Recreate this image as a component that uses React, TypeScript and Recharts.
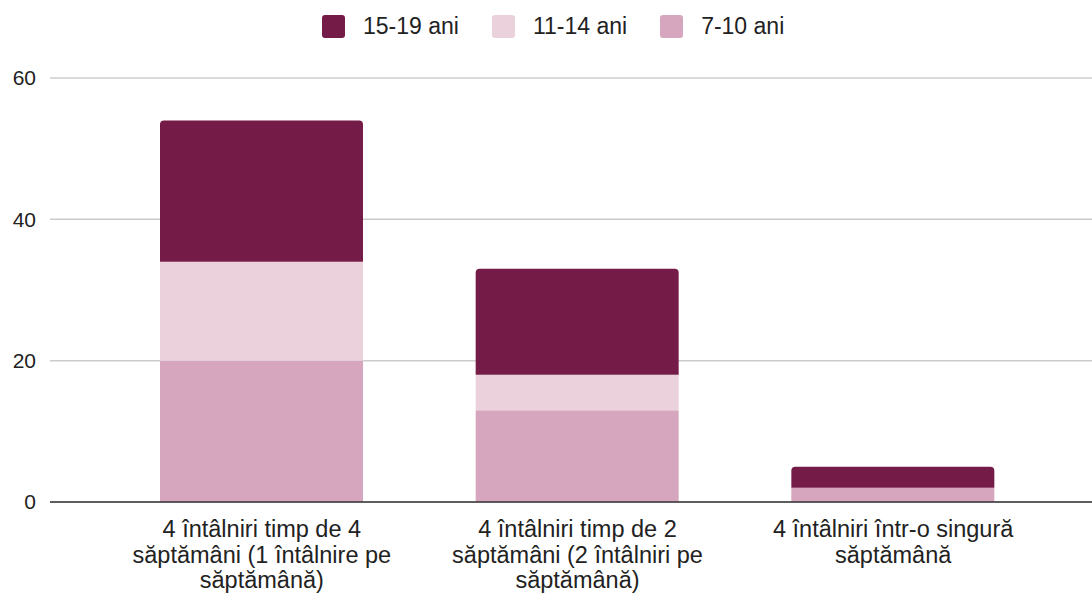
import React from "react";
import { BarChart, Bar, XAxis, YAxis, CartesianGrid, Legend } from "recharts";

const categories = [
  "4 întâlniri timp de 4 săptămâni (1 întâlnire pe săptămână)",
  "4 întâlniri timp de 2 săptămâni (2 întâlniri pe săptămână)",
  "4 întâlniri într-o singură săptămână",
];
const age7to10 = [20, 13, 2];
const age11to14 = [14, 5, 0];
const age15to19 = [20, 15, 3];
const yTicks = [0, 20, 40, 60];

const seriesNames = { a: "7-10 ani", b: "11-14 ani", c: "15-19 ani" };
const colors = { a: "#d5a6bd", b: "#ead1dc", c: "#741b47" };

const data = categories.map((name, i) => ({
  name,
  a: age7to10[i],
  b: age11to14[i],
  c: age15to19[i],
}));

const FONT = "'Liberation Sans', Arial, sans-serif";

function wrap(label: string, max: number): string[] {
  const words = label.split(" ");
  const lines: string[] = [];
  let cur = "";
  for (const w of words) {
    const next = cur ? cur + " " + w : w;
    if (next.length > max && cur) {
      lines.push(cur);
      cur = w;
    } else {
      cur = next;
    }
  }
  if (cur) lines.push(cur);
  return lines;
}

const CategoryTick = (props: any) => {
  const { x, y, payload } = props;
  const lines = wrap(String(payload.value), 26);
  return (
    <text x={x} y={y} textAnchor="middle" fill="#222" fontSize={23.5} fontFamily={FONT}>
      {lines.map((l, i) => (
        <tspan key={i} x={x} dy={i === 0 ? 27 : 25.5}>
          {l}
        </tspan>
      ))}
    </text>
  );
};

const legendOrder: ("c" | "b" | "a")[] = ["c", "b", "a"];

const LegendContent = () => (
  <div
    style={{
      height: 78,
      boxSizing: "border-box",
      paddingTop: 15,
      paddingLeft: 322,
      display: "flex",
      justifyContent: "flex-start",
      alignItems: "flex-start",
      fontFamily: FONT,
      fontSize: 23,
      color: "#222",
    }}
  >
    {legendOrder.map((k) => (
      <div key={k} style={{ display: "flex", alignItems: "center", marginRight: 33, height: 23 }}>
        <div
          style={{
            width: 23,
            height: 23,
            borderRadius: 3,
            background: colors[k],
            marginRight: 18,
          }}
        />
        <span style={{ lineHeight: "23px" }}>{seriesNames[k]}</span>
      </div>
    ))}
  </div>
);

export default function App() {
  return (
    <div style={{ position: "absolute", left: 0, top: 0, width: 1092, height: 594, background: "#fff" }}>
      <BarChart
        width={1092}
        height={594}
        data={data}
        margin={{ top: 0, right: 0, bottom: 0, left: 0 }}
      >
        <Legend verticalAlign="top" align="left" content={<LegendContent />} />
        <CartesianGrid vertical={false} stroke="#cccccc" strokeWidth={1.5} />
        <XAxis
          dataKey="name"
          height={92}
          interval={0}
          padding={{ left: 54, right: 41 }}
          axisLine={{ stroke: "#333333", strokeWidth: 1.5 }}
          tickLine={false}
          tick={<CategoryTick />}
        />
        <YAxis
          width={50}
          domain={[0, 60]}
          ticks={yTicks}
          axisLine={false}
          tickLine={false}
          tickSize={6}
          tickMargin={8}
          tick={{ fill: "#222", fontSize: 21, fontFamily: FONT }}
        />
        <Bar dataKey="a" name={seriesNames.a} stackId="s" fill={colors.a} barSize={203} isAnimationActive={false} />
        <Bar dataKey="b" name={seriesNames.b} stackId="s" fill={colors.b} barSize={203} isAnimationActive={false} />
        <Bar
          dataKey="c"
          name={seriesNames.c}
          stackId="s"
          fill={colors.c}
          barSize={203}
          radius={[4, 4, 0, 0]}
          isAnimationActive={false}
        />
      </BarChart>
    </div>
  );
}
